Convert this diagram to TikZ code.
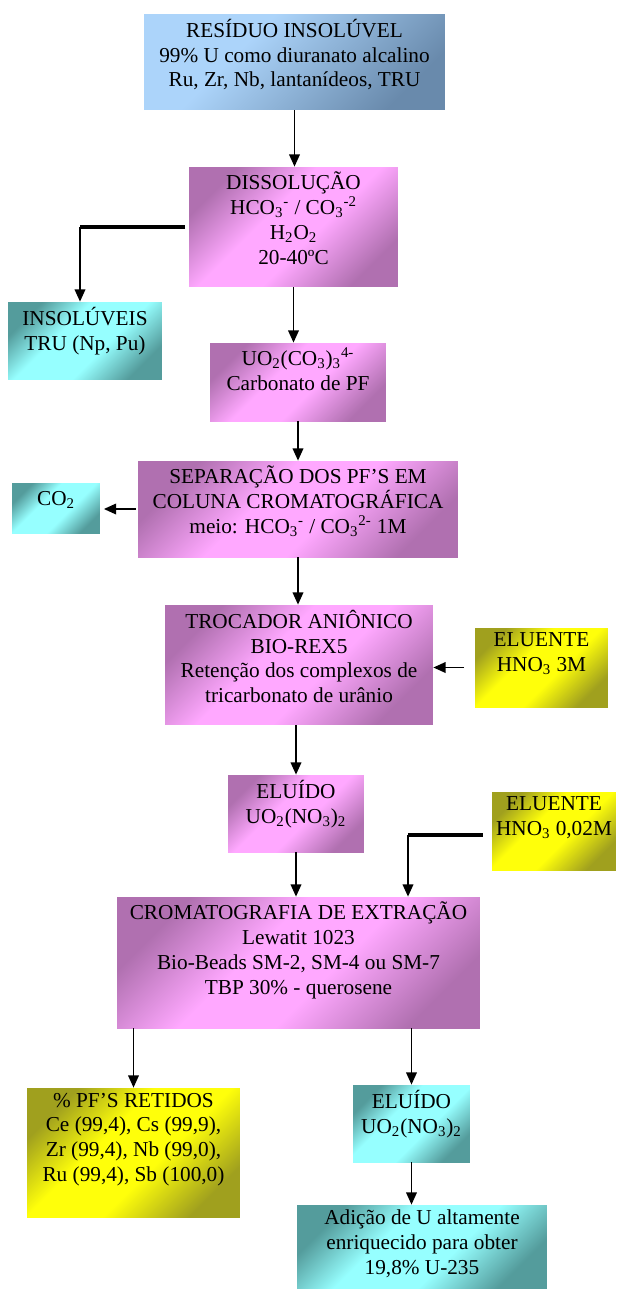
\documentclass[tikz,border=0pt]{standalone}
\usepackage{fontspec}
\setmainfont{Liberation Serif}
\usetikzlibrary{calc,arrows.meta}

\definecolor{azulC}{RGB}{172,212,250}
\definecolor{azulE}{RGB}{105,138,172}
\definecolor{rosaC}{RGB}{255,168,255}
\definecolor{rosaE}{RGB}{176,112,176}
\definecolor{cianoC}{RGB}{150,255,255}
\definecolor{cianoE}{RGB}{84,156,156}
\definecolor{amarC}{RGB}{255,255,10}
\definecolor{amarE}{RGB}{160,160,30}

% degrades diagonais
\pgfdeclareverticalshading{azulS}{100bp}{color(0bp)=(azulE); color(25bp)=(azulE); color(62bp)=(azulC); color(100bp)=(azulC)}
\pgfdeclareverticalshading{rosaS}{100bp}{color(0bp)=(rosaE); color(25bp)=(rosaE); color(44bp)=(rosaC); color(58bp)=(rosaC); color(75bp)=(rosaE); color(100bp)=(rosaE)}
\pgfdeclareverticalshading{cianoS}{100bp}{color(0bp)=(cianoE); color(25bp)=(cianoE); color(42bp)=(cianoC); color(60bp)=(cianoC); color(75bp)=(cianoE); color(100bp)=(cianoE)}
\pgfdeclareverticalshading{amarS}{100bp}{color(0bp)=(amarE); color(25bp)=(amarE); color(43bp)=(amarC); color(59bp)=(amarC); color(75bp)=(amarE); color(100bp)=(amarE)}

\tikzset{
  caixa/.style={rectangle, inner sep=0pt, draw=none, shading angle=45},
  azul/.style={caixa, shading=azulS},
  rosa/.style={caixa, shading=rosaS},
  ciano/.style={caixa, shading=cianoS},
  amarelo/.style={caixa, shading=amarS},
  txt/.style={anchor=north, inner sep=0pt, yshift=-0.1cm, align=center,
    font=\fontsize{12.1}{14.1}\selectfont, execute at begin node=\strut},
  seta/.style={-{Triangle[length=7pt,width=6pt]}, line width=1.1pt},
  linha/.style={line width=2pt},
}

\begin{document}
\begin{tikzpicture}[x=0.02cm,y=-0.02cm]
\useasboundingbox (0,0) rectangle (617,1289);

% caixas
\node[azul, minimum width=6.02cm, minimum height=1.92cm] (res) at (294.5,62) {};
\node[rosa, minimum width=4.18cm, minimum height=2.40cm] (diss) at (293.5,227) {};
\node[ciano, minimum width=3.08cm, minimum height=1.54cm] (insol) at (85,340.5) {};
\node[rosa, minimum width=3.52cm, minimum height=1.56cm] (uo2) at (298,382) {};
\node[rosa, minimum width=6.40cm, minimum height=1.92cm] (sep) at (298,509) {};
\node[ciano, minimum width=1.76cm, minimum height=1.00cm] (co2) at (56,508) {};
\node[rosa, minimum width=5.36cm, minimum height=2.40cm] (troc) at (299,665) {};
\node[amarelo, minimum width=2.66cm, minimum height=1.58cm] (elu1) at (541.5,667.5) {};
\node[rosa, minimum width=2.72cm, minimum height=1.54cm] (eluido) at (296,813.5) {};
\node[amarelo, minimum width=2.48cm, minimum height=1.56cm] (elu2) at (554,831) {};
\node[rosa, minimum width=7.26cm, minimum height=2.62cm] (crom) at (298.5,962.5) {};
\node[amarelo, minimum width=4.26cm, minimum height=2.58cm] (pf) at (133.5,1152.5) {};
\node[ciano, minimum width=2.34cm, minimum height=1.54cm] (eluido2) at (411.5,1123.5) {};
\node[ciano, minimum width=5.00cm, minimum height=1.66cm] (adic) at (422,1246.5) {};

% textos
\node[txt] (res-t) at (res.north) {RESÍDUO INSOLÚVEL\\99\% U como diuranato alcalino\\Ru, Zr, Nb, lantanídeos, TRU};
\node[txt] (diss-t) at (diss.north) {DISSOLUÇÃO\\HCO\textsubscript{3}\textsuperscript{-} / CO\textsubscript{3}\textsuperscript{-2}\\H\textsubscript{2}O\textsubscript{2}\\20-40ºC};
\node[txt] (insol-t) at (insol.north) {INSOLÚVEIS\\TRU (Np, Pu)};
\node[txt] (uo2-t) at (uo2.north) {UO\textsubscript{2}(CO\textsubscript{3})\textsubscript{3}\textsuperscript{4-}\\Carbonato de PF};
\node[txt] (sep-t) at (sep.north) {SEPARAÇÃO DOS PF’S EM\\COLUNA CROMATOGRÁFICA\\meio: HCO\textsubscript{3}\textsuperscript{-} / CO\textsubscript{3}\textsuperscript{2-} 1M};
\node[txt] (co2-t) at (co2.north) {CO\textsubscript{2}};
\node[txt] (troc-t) at (troc.north) {TROCADOR ANIÔNICO\\BIO-REX5\\Retenção dos complexos de\\tricarbonato de urânio};
\node[txt] (elu1-t) at (elu1.north) {ELUENTE\\HNO\textsubscript{3} 3M};
\node[txt] (eluido-t) at (eluido.north) {ELUÍDO\\UO\textsubscript{2}(NO\textsubscript{3})\textsubscript{2}};
\node[txt] (elu2-t) at (elu2.north) {ELUENTE\\HNO\textsubscript{3} 0,02M};
\node[txt] (crom-t) at (crom.north) {CROMATOGRAFIA DE EXTRAÇÃO\\Lewatit 1023\\Bio-Beads SM-2, SM-4 ou SM-7\\TBP 30\% - querosene};
\node[txt] (pf-t) at (pf.north) {\% PF’S RETIDOS\\Ce (99,4), Cs (99,9),\\Zr (99,4), Nb (99,0),\\Ru (99,4), Sb (100,0)};
\node[txt] (eluido2-t) at (eluido2.north) {ELUÍDO\\UO\textsubscript{2}(NO\textsubscript{3})\textsubscript{2}};
\node[txt] (adic-t) at (adic.north) {Adição de U altamente\\enriquecido para obter\\19,8\% U-235};

% setas verticais
\draw[seta] (res.south) -- (res.south |- diss.north);
\draw[seta] (diss.south) -- (diss.south |- uo2.north);
\draw[seta] (uo2.south) -- (uo2.south |- sep.north);
\draw[seta] (sep.south) -- (sep.south |- troc.north);
\draw[seta] (eluido.north |- troc.south) -- (eluido.north);
\draw[seta] (eluido.south) -- (eluido.south |- crom.north);
\draw[seta] (pf.north |- crom.south) -- (pf.north);
\draw[seta] (eluido2.north |- crom.south) -- (eluido2.north);
\draw[seta] (eluido2.south) -- (eluido2.south |- adic.north);

% setas laterais
\coordinate (k1) at (80,227);
\draw[linha, shorten <=2pt] (diss.west) -- (k1);
\draw[seta] (k1) -- (k1 |- insol.north);
\draw[seta, shorten <=1pt, shorten >=2pt] (sep.west) -- (sep.west -| co2.east);
\draw[seta, shorten <=6pt] (elu1.west) -- (elu1.west -| troc.east);
\coordinate (k2) at (408,835);
\draw[linha, shorten <=5pt] (elu2.west |- k2) -- (k2);
\draw[seta] (k2) -- (k2 |- crom.north);
\end{tikzpicture}
\end{document}
